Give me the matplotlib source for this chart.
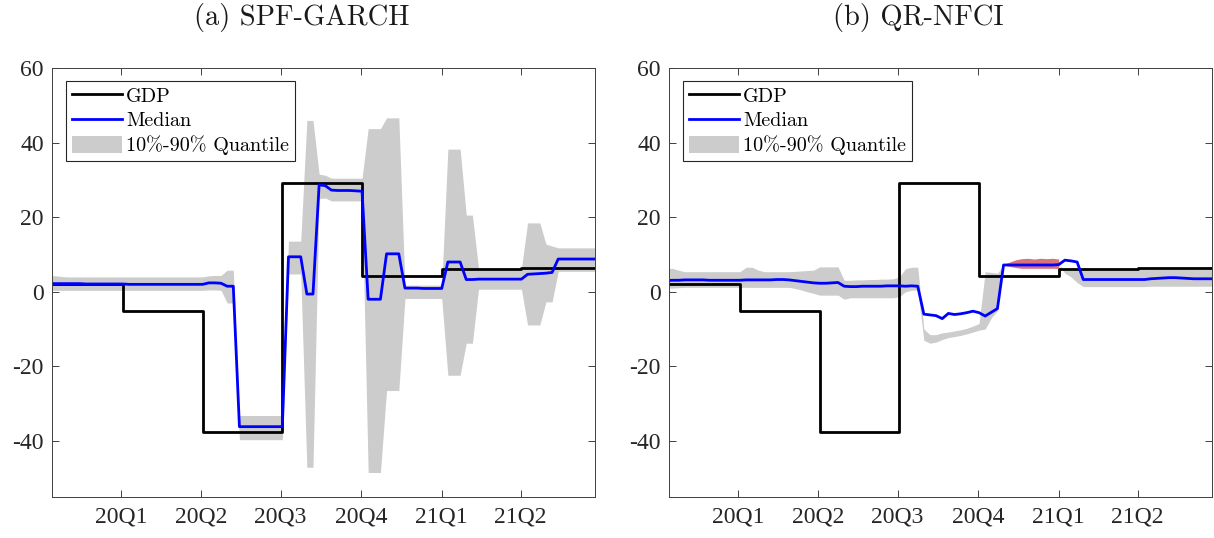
import numpy as np
import pandas as pd
import matplotlib
matplotlib.use("Agg")
from matplotlib import pyplot as plt

plt.rcParams['font.family'] = ['Liberation Serif', 'DejaVu Serif']
plt.rcParams['axes.unicode_minus'] = False

# weekly nowcast dates (Fridays)
weeks = pd.date_range('2019-10-11', periods=90, freq='7D')

# realised GDP growth by quarter
gdp_quarters = pd.to_datetime(['2019-10-01', '2020-01-01', '2020-04-01', '2020-07-01',
                               '2020-10-01', '2021-01-01', '2021-04-01'])
gdp_values = [2.1, -5.1, -37.7, 29.2, 4.2, 6.1, 6.5]

tick_dates = pd.to_datetime(['2020-01-01', '2020-04-01', '2020-07-01',
                             '2020-10-01', '2021-01-01', '2021-04-01'])
tick_labels = ['20Q1', '20Q2', '20Q3', '20Q4', '21Q1', '21Q2']

# (a) SPF-GARCH
spf_med = [2.2, 2.2, 2.2, 2.2, 2.2, 2.2, 2.1, 2.1, 2.1, 2.1,
           2.1, 2.1, 2.1, 2.0, 2.0, 2.0, 2.0, 2.0, 2.0, 2.0,
           2.0, 2.0, 2.0, 2.0, 2.0, 2.0, 2.4, 2.4, 2.3, 1.5,
           1.5, -36.2, -36.2, -36.2, -36.2, -36.2, -36.2, -36.2, -36.2, 9.4,
           9.4, 9.4, -0.6, -0.6, 28.7, 28.5, 27.3, 27.2, 27.2, 27.2,
           27.1, 27.0, -2.0, -2.0, -2.0, 10.2, 10.2, 10.2, 1.0, 1.0,
           1.0, 0.9, 0.9, 0.9, 0.9, 8.0, 8.0, 8.0, 3.3, 3.3,
           3.4, 3.4, 3.4, 3.4, 3.4, 3.4, 3.4, 3.4, 4.7, 4.8,
           4.9, 5.0, 5.2, 8.8, 8.8, 8.8, 8.8, 8.8, 8.8, 8.8]
spf_hi = [4.4, 4.3, 4.1, 4.0, 4.0, 4.0, 4.0, 4.0, 4.0, 4.0,
          4.0, 4.0, 4.0, 4.0, 4.0, 4.0, 4.0, 4.0, 4.0, 4.0,
          4.0, 4.0, 4.0, 4.0, 4.0, 4.0, 4.3, 4.4, 4.4, 5.8,
          5.8, -33.2, -33.2, -33.2, -33.2, -33.2, -33.2, -33.2, -33.2, 13.6,
          13.6, 13.6, 46.0, 46.0, 31.6, 31.3, 30.5, 30.5, 30.5, 30.5,
          30.5, 30.5, 43.8, 43.8, 43.8, 46.7, 46.7, 46.7, 1.8, 1.8,
          1.8, 1.8, 1.8, 1.8, 1.8, 38.3, 38.3, 38.3, 20.6, 20.6,
          6.3, 6.3, 6.3, 6.3, 6.3, 6.3, 6.3, 6.3, 18.5, 18.5,
          18.5, 12.8, 12.3, 11.8, 11.8, 11.8, 11.8, 11.8, 11.8, 11.8]
spf_lo = [0.4, 0.4, 0.4, 0.4, 0.4, 0.4, 0.4, 0.4, 0.4, 0.4,
          0.4, 0.4, 0.4, 0.4, 0.4, 0.4, 0.4, 0.4, 0.4, 0.4,
          0.4, 0.4, 0.4, 0.4, 0.4, 0.4, 0.5, 0.5, 0.4, -3.0,
          -3.0, -39.7, -39.7, -39.7, -39.7, -39.7, -39.7, -39.7, -39.7, 4.8,
          4.8, 4.8, -47.1, -47.1, 25.0, 25.2, 24.4, 24.4, 24.4, 24.4,
          24.4, 24.4, -48.5, -48.5, -48.5, -26.5, -26.5, -26.5, -1.8, -1.8,
          -1.8, -1.8, -1.8, -1.8, -1.8, -22.4, -22.4, -22.4, -13.8, -13.8,
          0.7, 0.7, 0.7, 0.7, 0.7, 0.7, 0.7, 0.7, -8.9, -8.9,
          -8.9, -2.7, -2.7, 5.5, 5.5, 5.5, 5.5, 5.5, 5.5, 5.5]

# (b) QR-NFCI
nfci_med = [3.0, 3.1, 3.1, 3.2, 3.2, 3.2, 3.2, 3.1, 3.1, 3.1,
            3.1, 3.1, 3.1, 3.2, 3.2, 3.2, 3.2, 3.2, 3.3, 3.3,
            3.2, 3.0, 2.8, 2.6, 2.4, 2.3, 2.3, 2.4, 2.5, 1.5,
            1.4, 1.4, 1.5, 1.5, 1.5, 1.5, 1.6, 1.6, 1.6, 1.5,
            1.6, 1.5, -6.0, -6.2, -6.4, -7.2, -5.8, -6.1, -5.9, -5.6,
            -5.2, -5.6, -6.5, -5.5, -4.5, 7.2, 7.2, 7.2, 7.2, 7.2,
            7.2, 7.2, 7.2, 7.2, 7.3, 8.5, 8.3, 8.0, 3.3, 3.3,
            3.3, 3.3, 3.3, 3.3, 3.3, 3.3, 3.3, 3.3, 3.3, 3.5,
            3.6, 3.7, 3.8, 3.8, 3.7, 3.6, 3.5, 3.5, 3.5, 3.5]
nfci_hi = [6.3, 6.3, 5.8, 5.4, 5.4, 5.4, 5.4, 5.4, 5.4, 5.4,
           5.4, 5.4, 5.4, 6.6, 6.6, 5.8, 5.4, 5.4, 5.4, 5.4,
           5.4, 5.5, 5.6, 5.7, 5.8, 6.7, 6.7, 6.7, 6.7, 3.1,
           3.1, 3.2, 3.2, 3.3, 3.3, 3.4, 3.4, 3.5, 4.0, 6.2,
           6.6, 6.6, -10.0, -11.5, -11.5, -11.0, -10.8, -10.5, -10.2, -9.8,
           -9.2, -8.5, 5.4, 5.2, 5.0, 7.2, 7.2, 7.2, 7.2, 7.2,
           7.2, 7.2, 7.2, 7.2, 7.3, 5.9, 5.8, 6.0, 6.3, 6.3,
           6.3, 6.3, 6.3, 6.3, 6.3, 6.3, 6.3, 6.3, 6.3, 6.2,
           6.1, 6.1, 6.1, 6.1, 6.1, 6.1, 6.1, 6.1, 6.1, 6.1]
nfci_lo = [1.0, 1.0, 1.1, 1.2, 1.2, 1.2, 1.2, 1.2, 1.2, 1.2,
           1.2, 1.2, 1.2, 1.2, 1.2, 1.2, 1.2, 1.2, 1.2, 1.2,
           1.2, 0.9, 0.5, 0.0, -0.4, -0.9, -0.9, -0.9, -0.9, -2.0,
           -1.6, -1.6, -1.6, -1.6, -1.6, -1.6, -1.6, -1.6, -1.3, 0.0,
           0.4, 0.5, -13.0, -13.8, -13.5, -12.8, -12.3, -12.0, -11.7, -11.3,
           -10.8, -10.3, -10.0, -7.0, -5.0, 7.2, 7.2, 7.2, 7.2, 7.2,
           7.2, 7.2, 7.2, 7.2, 7.3, 5.0, 4.0, 2.5, 1.4, 1.4,
           1.4, 1.4, 1.4, 1.4, 1.4, 1.4, 1.4, 1.4, 1.4, 1.5,
           1.5, 1.5, 1.5, 1.5, 1.5, 1.5, 1.5, 1.5, 1.5, 1.5]
# red band, weeks 55..64 of the QR-NFCI panel
red_weeks = weeks[55:65]
red_hi = [7.4, 8.0, 8.6, 8.9, 9.0, 8.8, 9.0, 8.9, 9.0, 8.8]
red_lo = [7.2, 6.8, 6.5, 6.3, 6.3, 6.3, 6.3, 6.3, 6.3, 6.3]

# GDP value of the quarter each week falls in
q_idx = np.searchsorted(gdp_quarters, weeks, side='right') - 1
gdp_weekly = [gdp_values[i] for i in q_idx]

fig = plt.figure(figsize=(12.14, 5.38), dpi=100)
ax1 = fig.add_axes([52/1214, 1-496.7/538, 543/1214, 428.4/538])
ax2 = fig.add_axes([669/1214, 1-496.7/538, 543/1214, 428.4/538])

def panel(ax, title, med, lo, hi):
    band = ax.fill_between(weeks, lo, hi, color='#cccccc', lw=0)
    g, = ax.plot(weeks, gdp_weekly, color='black', lw=2, drawstyle='steps-post')
    m, = ax.plot(weeks, med, color='#0000ff', lw=2)
    ax.set_xlim(pd.Timestamp('2019-10-14'), pd.Timestamp('2021-06-25'))
    ax.set_ylim(-55, 60)
    ax.set_yticks([-40, -20, 0, 20, 40, 60])
    ax.set_xticks(tick_dates)
    ax.set_xticklabels(tick_labels)
    ax.tick_params(direction='in', top=True, right=True, length=5, width=0.7,
                   color='#404040', labelcolor='#262626', labelsize=17)
    ax.tick_params(axis='x', pad=7)
    ax.tick_params(axis='y', pad=6)
    for s in ax.spines.values():
        s.set_color('#404040')
        s.set_linewidth(0.7)
    ax.set_title(title, fontfamily='cmr10', fontsize=20.5, pad=31, x=0.46,
                 color='#1a1a1a')
    leg = ax.legend([g, m, band], ['GDP', 'Median', '10%-90% Quantile'],
                    loc='upper left', bbox_to_anchor=(0.0252, 0.971), borderaxespad=0,
                    prop={'family': 'cmr10', 'size': 14.5}, frameon=True, fancybox=False,
                    edgecolor='#262626', framealpha=1, handlelength=2.5, handletextpad=0.2,
                    handleheight=0.9, labelspacing=0.25, borderpad=0.3)
    leg.get_frame().set_linewidth(0.8)
    return ax

panel(ax1, '(a) SPF-GARCH', spf_med, spf_lo, spf_hi)
ax2.fill_between(red_weeks, red_lo, red_hi, color='#d9737b', lw=0, zorder=1.5)
panel(ax2, '(b) QR-NFCI', nfci_med, nfci_lo, nfci_hi)

fig.savefig('out.png', dpi=100)
